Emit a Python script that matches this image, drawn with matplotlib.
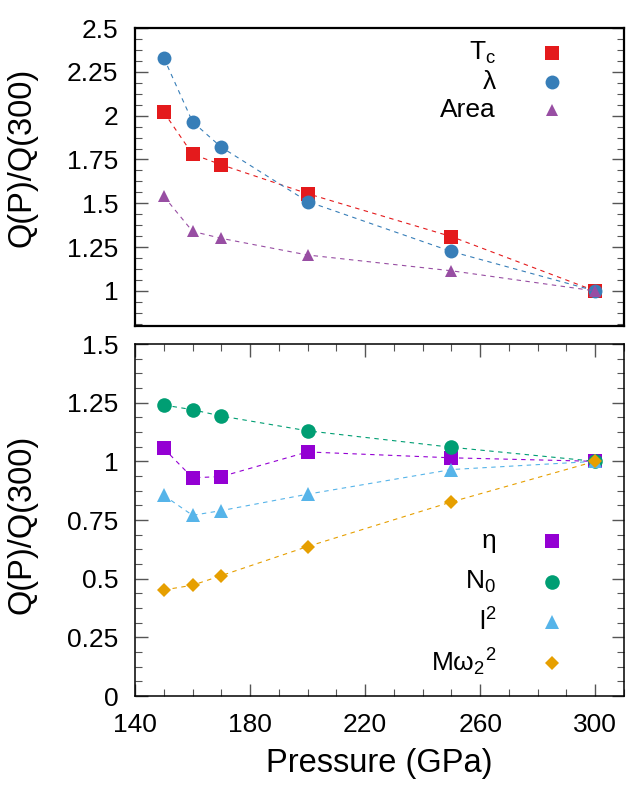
import matplotlib
matplotlib.use("Agg")
import matplotlib.pyplot as plt
from matplotlib.ticker import MultipleLocator, FixedLocator

plt.rcParams['font.family'] = ['Liberation Sans', 'DejaVu Sans']
plt.rcParams['mathtext.fontset'] = 'custom'
plt.rcParams['mathtext.rm'] = 'Liberation Sans'
plt.rcParams['mathtext.it'] = 'Liberation Sans'
plt.rcParams['mathtext.default'] = 'regular'

# pressure points (GPa)
pressure = [150, 160, 170, 200, 250, 300]
x_ticks = [140, 180, 220, 260, 300]

# top panel: ratios Q(P)/Q(300)
tc_ratio = [2.02, 1.78, 1.72, 1.555, 1.31, 1.0]
lam_ratio = [2.33, 1.965, 1.82, 1.51, 1.225, 1.0]
area_ratio = [1.54, 1.34, 1.30, 1.205, 1.115, 1.0]

# bottom panel
eta_ratio = [1.055, 0.93, 0.935, 1.04, 1.015, 1.0]
n0_ratio = [1.24, 1.22, 1.193, 1.13, 1.06, 1.0]
i2_ratio = [0.855, 0.77, 0.79, 0.86, 0.965, 1.0]
mw2_ratio = [0.452, 0.472, 0.513, 0.637, 0.827, 1.0]

top_series = [
    (tc_ratio, 'T$_c$', '#e41a1c', 's', 9.5),
    (lam_ratio, 'λ', '#377eb8', 'o', 10),
    (area_ratio, 'Area', '#984ea3', '^', 9),
]
bot_series = [
    (eta_ratio, 'η', '#9400d3', 's', 10),
    (n0_ratio, 'N$_0$', '#009e73', 'o', 10.5),
    (i2_ratio, 'l$^2$', '#56b4e9', '^', 9.5),
    (mw2_ratio, 'Mω$_2{}^2$', '#e69f00', 'D', 7.5),
]

W, H = 637, 791
fig = plt.figure(figsize=(W / 100, H / 100), dpi=100)


def px_axes(x0, y0, x1, y1):
    return fig.add_axes([x0 / W, 1 - y1 / H, (x1 - x0) / W, (y1 - y0) / H])


ax1 = px_axes(135, 28, 624, 326)
ax2 = px_axes(135, 344, 624, 696)

tick_fs = 19
label_fs = 23.5


def draw_panel(ax, series, legend_y, legend_dy):
    for vals, lab, col, mk, ms in series:
        ax.plot(pressure, vals, color=col, lw=0.8, ls=(0, (4, 4)),
                marker=mk, ms=ms, mfc=col, mec=col, mew=0)
    # gnuplot-style key: label right aligned, marker on the right
    for ii, (vals, lab, col, mk, ms) in enumerate(series):
        yy = legend_y - ii * legend_dy
        ax.plot([0.853], [yy], transform=ax.transAxes, marker=mk, ms=ms,
                color=col, mew=0, clip_on=False)
        ax.text(0.738, yy, lab, transform=ax.transAxes, ha='right',
                va='center', fontsize=tick_fs)
    ax.set_xlim(140, 310)
    ax.yaxis.set_major_locator(MultipleLocator(0.25))
    ax.yaxis.set_minor_locator(MultipleLocator(0.0625))
    ax.xaxis.set_major_locator(FixedLocator(x_ticks))
    ax.xaxis.set_minor_locator(MultipleLocator(10))
    ax.tick_params(which='both', direction='in', left=True, right=True,
                   top=True, bottom=True, labelsize=tick_fs, pad=12,
                   color='#555555')
    ax.tick_params(which='major', length=9, width=1)
    ax.tick_params(which='minor', length=5, width=0.8)
    ax.set_ylabel('Q(P)/Q(300)', fontsize=label_fs)
    ax.yaxis.set_major_formatter(plt.FuncFormatter(lambda v, p: '{:g}'.format(v)))


draw_panel(ax1, top_series, 0.915, 0.095)
ax1.set_ylim(0.8, 2.5)
ax1.tick_params(axis='x', which='both', top=False, bottom=False,
                labelbottom=False)
for sp in ax1.spines.values():
    sp.set_linewidth(1.6)
ax1.yaxis.set_label_coords(-0.2, 0.567)

draw_panel(ax2, bot_series, 0.44, 0.115)
ax2.set_ylim(0, 1.5)
for sp in ax2.spines.values():
    sp.set_linewidth(1.1)
ax2.set_xlabel('Pressure (GPa)', fontsize=label_fs, labelpad=8)
ax2.yaxis.set_label_coords(-0.2, 0.487)

fig.savefig('out.png', dpi=100)
